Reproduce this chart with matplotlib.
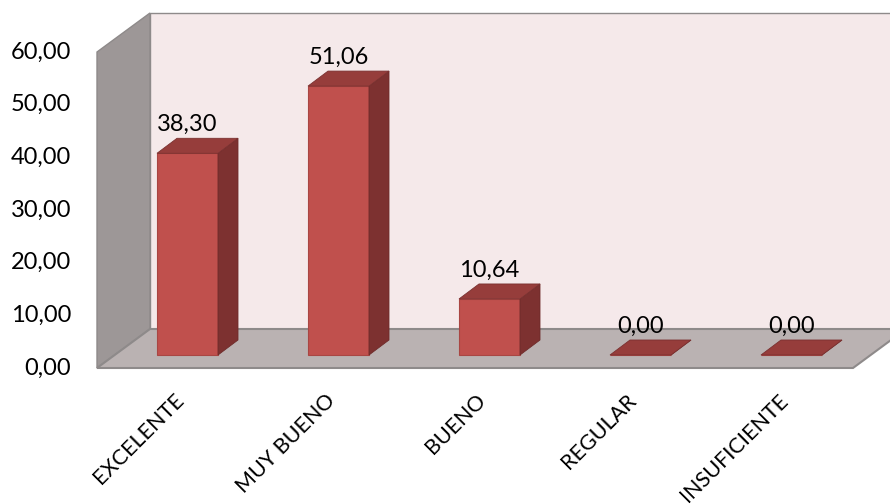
"""Column chart with Excel-style 3D walls, floor and boxes."""
import matplotlib.pyplot as plt
from matplotlib.patches import Polygon

plt.rcParams['font.family'] = ['Lato', 'DejaVu Sans']

categories = ['EXCELENTE', 'MUY BUENO', 'BUENO', 'REGULAR', 'INSUFICIENTE']
values = [38.30, 51.06, 10.64, 0.00, 0.00]
yticks = [0, 10, 20, 30, 40, 50, 60]

FRONT = '#C0504D'
SIDE = '#7D3130'
TOP = '#963D3B'
BACK_WALL = '#F5E9EA'
SIDE_WALL = '#9D9797'
FLOOR = '#BAB2B2'
EDGE = '#8E8A8A'

# pixel-based scale: one category step and one value unit in screen pixels
W, H = 890, 504
STEP_PX = 151.0
UNIT_PX = 316.0 / 60.0
X0_PX, Y0_PX = 187.5, 368.0   # first category centre, value 0 on the front plane


def px(dx, dy):
    """Convert a pixel offset into data units (dy positive = up)."""
    return dx / STEP_PX, dy / UNIT_PX


fig = plt.figure(figsize=(W / 100, H / 100), dpi=100)
ax = fig.add_axes([0, 0, 1, 1])
ax.set_xlim(-X0_PX / STEP_PX, (W - X0_PX) / STEP_PX)
ax.set_ylim(-(H - Y0_PX) / UNIT_PX, Y0_PX / UNIT_PX)
ax.axis('off')

ymax = yticks[-1]
left = px(97 - X0_PX, 0)[0]
right = px(853 - X0_PX, 0)[0]
ddx, ddy = px(53, 39)          # full floor depth

# back wall
ax.add_patch(Polygon([(left + ddx, ddy), (right + ddx, ddy),
                      (right + ddx, ymax + ddy), (left + ddx, ymax + ddy)],
                     closed=True, fc=BACK_WALL, ec=EDGE, lw=1.0, zorder=1))
# side wall
ax.add_patch(Polygon([(left, 0), (left, ymax), (left + ddx, ymax + ddy), (left + ddx, ddy)],
                     closed=True, fc=SIDE_WALL, ec=EDGE, lw=1.0, zorder=2))
# floor
ax.add_patch(Polygon([(left, 0), (right, 0), (right + ddx, ddy), (left + ddx, ddy)],
                     closed=True, fc=FLOOR, ec=EDGE, lw=1.5, zorder=2))

# boxes
half_w = px(30.5, 0)[0]
off_y = px(0, 13)[1]                     # box front sits a bit behind the floor edge
sdx, sdy = px(20, 15)                    # box depth
for i, v in enumerate(values):
    x1, x2 = i - half_w, i + half_w
    b = off_y
    t = off_y + v
    ax.add_patch(Polygon([(x1, b), (x2, b), (x2, t), (x1, t)], closed=True,
                         fc=FRONT, ec='#A94643', lw=0.8, zorder=4))
    ax.add_patch(Polygon([(x2, b), (x2 + sdx, b + sdy), (x2 + sdx, t + sdy), (x2, t)],
                         closed=True, fc=SIDE, ec='#6E2B2A', lw=0.6, zorder=4))
    ax.add_patch(Polygon([(x1, t), (x2, t), (x2 + sdx, t + sdy), (x1 + sdx, t + sdy)],
                         closed=True, fc=TOP, ec='#7A3130', lw=0.6, zorder=5))
    lbl = f'{v:.2f}'.replace('.', ',')
    ax.text(i, t + sdy + px(0, 3)[1], lbl, ha='center', va='bottom',
            fontsize=17, color='black', zorder=6)

# value axis labels
for t in yticks:
    ax.text(px(71 - X0_PX, 0)[0], t, f'{t:.2f}'.replace('.', ','),
            ha='right', va='center', fontsize=17, color='black')

# category labels
for i, c in enumerate(categories):
    ax.text(i - px(14, 0)[0], -px(0, 22)[1], c, rotation=45, rotation_mode='anchor',
            ha='right', va='top', fontsize=15.5, color='black')

fig.savefig('out.png', dpi=100)
